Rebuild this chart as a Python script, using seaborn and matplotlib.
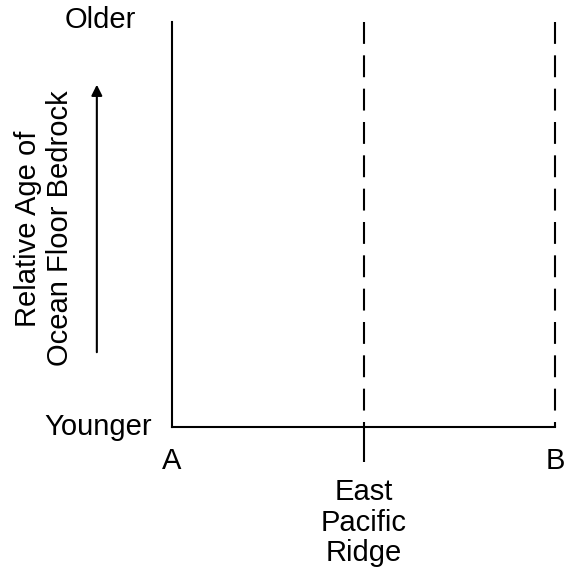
import matplotlib
matplotlib.use("Agg")
import matplotlib.pyplot as plt
import matplotlib.transforms as mtransforms
import numpy as np
import pandas as pd
import seaborn as sns

# positions along the profile from A to B
end_labels = ["A", "B"]
end_positions = [0, 2]
ridge_position = [1]
ridge_label = ["East\nPacific\nRidge"]
dashed_positions = [1, 2]
age_labels = ["Younger", "Older"]
y_title = "Relative Age of\nOcean Floor Bedrock"

sns.set_style("white")
plt.rcParams["font.family"] = ["Liberation Sans", "DejaVu Sans"]
plt.rcParams["text.color"] = "black"
plt.rcParams["axes.labelcolor"] = "black"
plt.rcParams["xtick.color"] = "black"

FS = 21

fig = plt.figure(figsize=(5.73, 5.81), dpi=100)
ax = fig.add_axes([0.300, 0.265, 0.669, 0.697])

# dashed lines drawn top to bottom so the dash pattern starts at the top
lines = pd.DataFrame({
	"x": np.repeat(dashed_positions, 2),
	"y": [1, 0] * len(dashed_positions),
	"line": np.repeat(range(len(dashed_positions)), 2),
})
for _, grp in lines.groupby("line"):
	ax.plot(grp["x"], grp["y"], color="black", lw=1.5, dashes=(10.5, 5.5), clip_on=False)

ax.set_xlim(min(end_positions), max(end_positions))
ax.set_ylim(0, 1)
sns.despine(ax=ax, top=True, right=True)
for side in ["left", "bottom"]:
	ax.spines[side].set_linewidth(1.5)
	ax.spines[side].set_color("black")

ax.set_xticks(ridge_position)
ax.set_xticklabels(ridge_label, fontsize=FS, linespacing=1.1)
ax.tick_params(axis="x", length=25, width=1.5, pad=12, color="black", bottom=True)
ax.set_yticks([])

ax.set_ylabel(y_title, fontsize=FS, linespacing=1.2)
ax.yaxis.set_label_coords(-0.255, 0.49)

trans = mtransforms.blended_transform_factory(ax.transData, ax.transAxes)
for lab, pos in zip(end_labels, end_positions):
	ax.text(pos, -0.083, lab, transform=trans, ha="center", va="center", fontsize=FS)

ax.text(-0.052, 0.0, age_labels[0], transform=ax.transAxes, ha="right", va="center", fontsize=FS)
ax.text(-0.188, 1.005, age_labels[1], transform=ax.transAxes, ha="center", va="center", fontsize=FS)

ax.annotate("", xy=(0.169, 0.859), xytext=(0.169, 0.389), xycoords="figure fraction",
            arrowprops=dict(arrowstyle="-|>", lw=1.5, mutation_scale=16, color="black"))

fig.savefig("out.png", dpi=100)
